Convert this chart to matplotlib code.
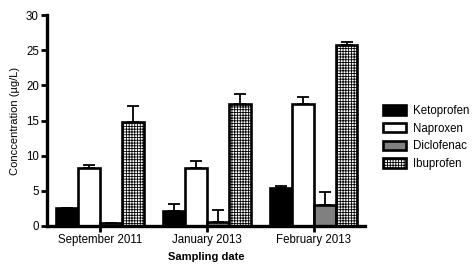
import numpy as np
import matplotlib.pyplot as plt

plt.rcParams['font.family'] = ['Liberation Sans', 'DejaVu Sans']
plt.rcParams['hatch.linewidth'] = 0.6

# data
dates = ['September 2011', 'January 2013', 'February 2013']
drugs = ['Ketoprofen', 'Naproxen', 'Diclofenac', 'Ibuprofen']
keto = [2.5, 2.1, 5.4]
keto_err = [0.1, 1.0, 0.3]
napro = [8.2, 8.2, 17.4]
napro_err = [0.5, 1.1, 0.9]
diclo = [0.4, 0.6, 3.0]
diclo_err = [0.0, 1.7, 1.8]
ibu = [14.8, 17.35, 25.7]
ibu_err = [2.3, 1.45, 0.5]

values = [keto, napro, diclo, ibu]
errors = [keto_err, napro_err, diclo_err, ibu_err]
faces = ['black', 'white', '#808080', 'white']
hatches = [None, None, None, '++++++']

fig = plt.figure(figsize=(4.72, 2.70), dpi=100)
ax = fig.add_axes([0.1, 0.163, 0.673, 0.781])

x = np.arange(len(dates))
w = 0.204
for i in range(4):
    pos = x + (i - 1.5) * w
    ax.bar(pos, values[i], w, color=faces[i], edgecolor='black', linewidth=1.9,
           hatch=hatches[i], label=drugs[i], zorder=2)
    ax.errorbar(pos, values[i], yerr=[np.zeros(3), errors[i]], fmt='none',
                ecolor='black', elinewidth=1.3, capsize=4, capthick=1.3, zorder=1)

ax.set_xlim(-0.495, 2.477)
ax.set_ylim(0, 30)
ax.set_yticks([0, 5, 10, 15, 20, 25, 30])
ax.set_xticks(x)
ax.set_xticklabels(dates)
ax.spines['top'].set_visible(False)
ax.spines['right'].set_visible(False)
ax.spines['left'].set_linewidth(2.4)
ax.spines['bottom'].set_linewidth(2.4)
ax.tick_params(axis='both', width=2, length=4, labelsize=8.3, direction='out', pad=2)
ax.set_ylabel('Conccentration (µg/L)', fontsize=8)
ax.set_xlabel('Sampling date', fontsize=8, fontweight='bold', labelpad=4)

ax.legend(loc='center left', bbox_to_anchor=(1.025, 0.42), frameon=False,
          fontsize=8.3, handlelength=2.0, handleheight=0.9, labelspacing=0.5,
          handletextpad=0.6)

plt.savefig('out.png', dpi=100)
